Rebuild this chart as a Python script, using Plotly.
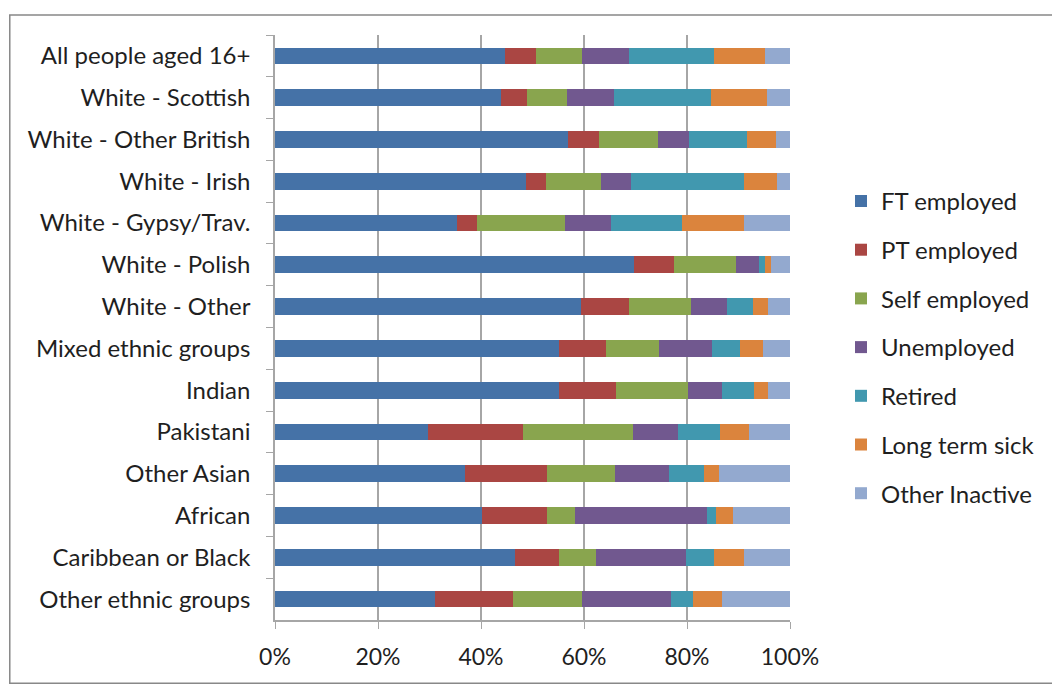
import plotly.graph_objects as go

groups = ['All people aged 16+', 'White - Scottish', 'White - Other British', 'White - Irish',
          'White - Gypsy/Trav.', 'White - Polish', 'White - Other', 'Mixed ethnic groups',
          'Indian', 'Pakistani', 'Other Asian', 'African', 'Caribbean or Black',
          'Other ethnic groups']

ft_employed = [44.7, 43.9, 56.8, 48.7, 35.4, 69.8, 59.4, 55.1, 55.1, 29.7, 36.9, 40.2, 46.6, 31.0]
pt_employed = [6.0, 5.0, 6.1, 3.9, 3.8, 7.7, 9.4, 9.2, 11.2, 18.5, 16.0, 12.7, 8.5, 15.2]
self_employed = [8.9, 7.8, 11.5, 10.7, 17.2, 12.1, 12.0, 10.3, 13.8, 21.3, 13.2, 5.3, 7.3, 13.4]
unemployed = [9.1, 9.2, 5.9, 5.8, 8.9, 4.4, 7.0, 10.3, 6.7, 8.8, 10.5, 25.6, 17.4, 17.2]
retired = [16.6, 18.7, 11.4, 21.9, 13.7, 1.2, 5.0, 5.4, 6.2, 8.2, 6.7, 1.9, 5.5, 4.3]
long_term_sick = [9.9, 10.9, 5.5, 6.5, 12.0, 1.1, 3.0, 4.5, 2.8, 5.5, 3.0, 3.3, 5.7, 5.7]
other_inactive = [4.8, 4.5, 2.8, 2.5, 9.0, 3.7, 4.2, 5.2, 4.2, 8.0, 13.7, 11.0, 9.0, 13.2]

x_ticks = [0, 20, 40, 60, 80, 100]
x_tick_labels = ['0%', '20%', '40%', '60%', '80%', '100%']

series = [
    ('FT employed', ft_employed, '#4572A7'),
    ('PT employed', pt_employed, '#AA4643'),
    ('Self employed', self_employed, '#89A54E'),
    ('Unemployed', unemployed, '#71588F'),
    ('Retired', retired, '#4198AF'),
    ('Long term sick', long_term_sick, '#DB843D'),
    ('Other Inactive', other_inactive, '#93A9CF'),
]

fig = go.Figure()
for name, vals, color in series:
    fig.add_trace(go.Bar(
        y=groups, x=vals, name=name, orientation='h',
        marker=dict(color=color, line=dict(width=0)),
        legendgroup=name
    ))

# page body adds an 8px offset, so the figure is 8px smaller than the window
fig.update_layout(
    barmode='stack',
    barnorm='percent',
    bargap=0.6,
    width=1052, height=678,
    margin=dict(l=267, r=270, t=27, b=66, autoexpand=False),
    paper_bgcolor='white',
    plot_bgcolor='white',
    font=dict(family='Lato, Carlito, sans-serif', size=24, color='#1F1F1F'),
    legend=dict(
        x=1.099, y=0.754, xanchor='left', yanchor='top',
        traceorder='grouped', tracegroupgap=14.5,
        font=dict(size=24), itemwidth=30
    ),
    shapes=[dict(type='rect', xref='paper', yref='paper',
                 x0=-0.515, x1=1.6, y0=-0.108, y1=1.034,
                 line=dict(color='#888888', width=1.5), layer='below')]
)

fig.update_xaxes(
    range=[0, 100],
    tickvals=x_ticks, ticktext=x_tick_labels, tickfont=dict(size=23),
    ticklabelstandoff=9,
    showgrid=True, gridcolor='#A6A6A6', gridwidth=1.5,
    showline=True, linecolor='#A6A6A6', linewidth=1.5,
    ticks='outside', ticklen=7, tickcolor='#A6A6A6',
    zeroline=False, fixedrange=True
)
fig.update_yaxes(
    categoryorder='array', categoryarray=groups, autorange='reversed',
    showline=True, linecolor='#A6A6A6', linewidth=1.5,
    ticks='outside', ticklen=7, tickcolor='#A6A6A6', tickson='boundaries',
    ticklabelstandoff=18, showgrid=False, fixedrange=True
)

fig.write_html('out.html')
